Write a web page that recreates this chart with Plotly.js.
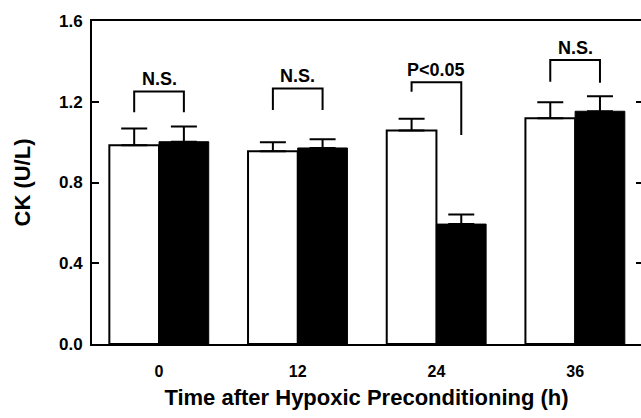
<!DOCTYPE html>
<html>
<head>
<meta charset="utf-8">
<script src="https://cdn.plot.ly/plotly-3.0.1.min.js"></script>
<style>html,body{margin:0;padding:0;background:#fff;}#chart{width:641px;height:418px;}</style>
</head>
<body>
<div id="chart"></div>
<script>
// Data
var hours = [0, 12, 24, 36];
var tickLabels = ['0', '12', '24', '36'];
var controlMean = [0.985, 0.955, 1.057, 1.118];
var controlErr = [0.082, 0.044, 0.059, 0.079];
var precondMean = [1.002, 0.971, 0.594, 1.153];
var precondErr = [0.076, 0.043, 0.048, 0.074];
var sigLabels = ['N.S.', 'N.S.', 'P<0.05', 'N.S.'];
var bracketTop = [1.251, 1.266, 1.296, 1.407];
var bracketLeftEnd = [1.148, 1.159, 1.250, 1.299];
var bracketRightEnd = [1.148, 1.159, 1.035, 1.294];

var BW = 4.3; // bar width in axis units
var FONT = 'Liberation Sans, Arial, Helvetica, sans-serif';

var traces = [
  {
    type: 'bar', x: hours, y: controlMean, width: BW, offset: -BW,
    marker: {color: '#ffffff', line: {color: '#000000', width: 2}},
    error_y: {type: 'data', symmetric: false, array: controlErr, arrayminus: controlErr.map(function(){return 0;}),
              color: '#000000', thickness: 2, width: 13},
    showlegend: false, hoverinfo: 'skip'
  },
  {
    type: 'bar', x: hours, y: precondMean, width: BW, offset: 0,
    marker: {color: '#000000', line: {color: '#000000', width: 1}},
    error_y: {type: 'data', symmetric: false, array: precondErr, arrayminus: precondErr.map(function(){return 0;}),
              color: '#000000', thickness: 2, width: 13},
    showlegend: false, hoverinfo: 'skip'
  },
  {
    // right-side mirror ticks only
    type: 'scatter', x: [hours[0]], y: [0], yaxis: 'y2', mode: 'markers',
    marker: {opacity: 0}, showlegend: false, hoverinfo: 'skip'
  }
];

var shapes = [];
var annotations = [];
for (var i = 0; i < hours.length; i++) {
  var xl = hours[i] - BW / 2, xr = hours[i] + BW / 2;
  shapes.push({
    type: 'path', xref: 'x', yref: 'y',
    path: 'M ' + xl + ' ' + bracketLeftEnd[i] + ' L ' + xl + ' ' + bracketTop[i] +
          ' L ' + xr + ' ' + bracketTop[i] + ' L ' + xr + ' ' + bracketRightEnd[i],
    line: {color: '#000000', width: 2}
  });
  annotations.push({
    xref: 'x', yref: 'y', x: hours[i], y: bracketTop[i], yanchor: 'bottom', yshift: 0,
    text: sigLabels[i], showarrow: false,
    font: {family: FONT, size: 18, color: '#000000', weight: 'bold'}
  });
}

var layout = {
  width: 641, height: 418,
  margin: {l: 92, r: 0, t: 21, b: 74},
  paper_bgcolor: '#ffffff', plot_bgcolor: '#ffffff',
  barmode: 'overlay',
  font: {family: FONT, color: '#000000'},
  xaxis: {
    range: [-5.8, 41.7], tickvals: hours, ticktext: tickLabels,
    showgrid: false, zeroline: false, showline: true, mirror: true,
    linecolor: '#000000', linewidth: 2, ticks: '',
    ticklabelstandoff: 12,
    tickfont: {family: FONT, size: 16, weight: 'bold', color: '#000000'},
    title: {text: 'Time after Hypoxic Preconditioning (h)', standoff: 10,
            font: {family: FONT, size: 22, weight: 'bold', color: '#000000'}}
  },
  yaxis: {
    range: [0, 1.6], tickvals: [0, 0.4, 0.8, 1.2, 1.6], ticktext: ['0.0', '0.4', '0.8', '1.2', '1.6'],
    showgrid: false, zeroline: false, showline: true, mirror: false,
    linecolor: '#000000', linewidth: 2, ticks: 'inside', ticklen: 7, tickwidth: 2, tickcolor: '#000000',
    ticklabelstandoff: 4,
    tickfont: {family: FONT, size: 17, weight: 'bold', color: '#000000'},
    title: {text: 'CK (U/L)', standoff: 22,
            font: {family: FONT, size: 22, weight: 'bold', color: '#000000'}}
  },
  yaxis2: {
    overlaying: 'y', side: 'right', range: [0, 1.6], tickvals: [0.4, 0.8, 1.2, 1.6],
    showgrid: false, zeroline: false, showline: false, showticklabels: false,
    ticks: 'inside', ticklen: 5, tickwidth: 2, tickcolor: '#000000'
  },
  shapes: shapes,
  annotations: annotations
};

Plotly.newPlot('chart', traces, layout, {displayModeBar: false, staticPlot: true});
</script>
</body>
</html>
